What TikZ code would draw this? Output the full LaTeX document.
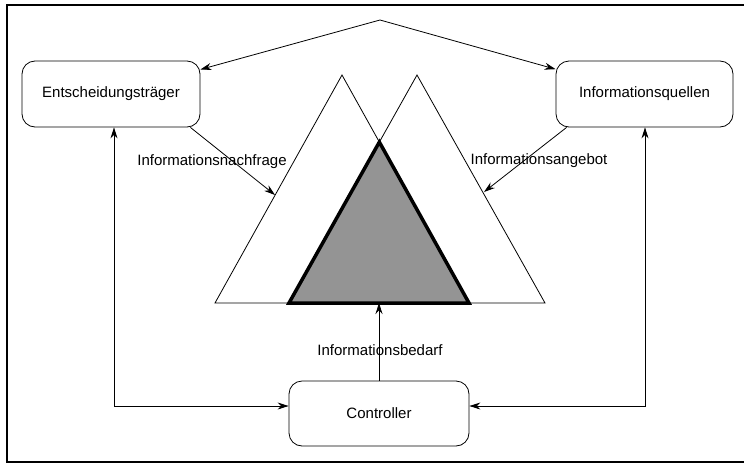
\documentclass[tikz,border=0pt]{standalone}
\usepackage{fontspec}
\setmainfont{Liberation Sans}
\usetikzlibrary{arrows.meta,calc,intersections}
\begin{document}
\begin{tikzpicture}[x=1pt,y=-1pt,
  box/.style={draw,line width=0.8pt,rounded corners=13pt,fill=white,font=\fontsize{15}{18}\selectfont},
  lbl/.style={font=\fontsize{15}{18}\selectfont,inner sep=0pt},
  conn/.style={line width=0.8pt,-{Stealth[length=11pt,width=7pt]}},
  conn2/.style={line width=0.8pt,{Stealth[length=11pt,width=7pt]}-{Stealth[length=11pt,width=7pt]}},
  tri/.style={draw,line width=0.8pt,fill=white},
  core/.style={draw,line width=3.5pt,line join=miter,fill=black!42}]
\useasboundingbox (0,0) rectangle (744,466);
\fill[white] (0,0) rectangle (744,466);
% frame
\draw[line width=2pt] (748,5) -- (7,5) -- (7,462) -- (748,462);
% boxes
\node[box,minimum width=178pt,minimum height=66pt] (et) at (111,94) {Entscheidungsträger};
\node[box,minimum width=177pt,minimum height=66pt] (iq) at (644.5,94) {Informationsquellen};
\node[box,minimum width=180pt,minimum height=65pt] (ct) at (379,413.5) {Controller};
% triangles
\coordinate (la) at (342,75);
\coordinate (ll) at (215,303);
\coordinate (lr) at (469,303);
\coordinate (ra) at (417,75);
\coordinate (rl) at (289,303);
\coordinate (rr) at (545,303);
\draw[tri] (ll) -- (la) -- (lr) -- cycle;
\draw[tri] (rl) -- (ra) -- (rr) -- cycle;
\path[name path=e1] (la) -- (lr);
\path[name path=e2] (ra) -- (rl);
\path[name intersections={of=e1 and e2,by=ca}];
\draw[core] (rl) -- (ca) -- (lr) -- cycle;
\coordinate (gb) at (379,303);
% top connectors
\coordinate (apex) at (380,20);
\draw[conn] (apex) -- (et);
\draw[conn] (apex) -- (iq);
% demand / supply
\coordinate (ln) at (275,195);
\coordinate (rn) at (484,192);
\draw[conn] ($(et.south east)+(-10,0)$) -- (ln);
\draw[conn] ($(iq.south west)+(11,0)$) -- (rn);
\node[lbl] (nf) at (212,162) {Informationsnachfrage};
\node[lbl] (ag) at (539,161) {Informationsangebot};
% need
\draw[conn] (ct.north -| gb) -- (gb);
\node[lbl] (bd) at (380,350) {Informationsbedarf};
% side loops
\coordinate (lc) at (114,406);
\coordinate (rc) at (645,406);
\draw[conn2] (et.south -| lc) -- (lc) -- (ct.west |- lc);
\draw[conn2] (iq.south -| rc) -- (rc) -- (ct.east |- rc);
\end{tikzpicture}
\end{document}
